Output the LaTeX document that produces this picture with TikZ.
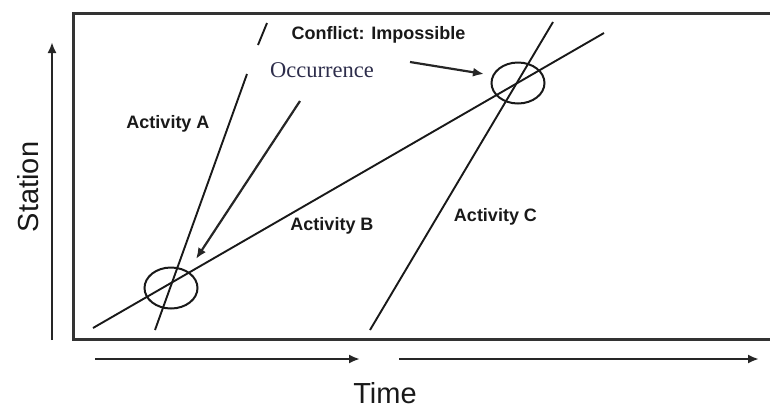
\documentclass[tikz,border=0pt]{standalone}
\usepackage{fontspec}
\setmainfont{Liberation Sans}
\newfontfamily\serifocc{Liberation Serif}
\usetikzlibrary{arrows.meta,shapes.geometric}
\definecolor{occcol}{RGB}{45,45,75}
\begin{document}
\begin{tikzpicture}[x=1pt,y=-1pt,
  frame/.style={draw=black!80,line width=3pt},
  actline/.style={draw=black!90,line width=1.9pt},
  arr/.style={draw=black!85,line width=2.2pt,-{Latex[length=11pt,width=9pt]}},
  ring/.style={ellipse,draw=black!90,line width=2pt,minimum width=53pt,minimum height=41pt,inner sep=0pt},
  lab/.style={font=\fontsize{18}{18}\selectfont\bfseries,inner sep=0pt,anchor=base,text=black!90},
  axlab/.style={font=\fontsize{29}{30}\selectfont,inner sep=0pt,anchor=base,text=black!90}]
\useasboundingbox (0,0) rectangle (770,410);
% frame (open on right)
\draw[frame] (770,13) -- (73,13) -- (73,339) -- (770,339);
% axes
\coordinate (sv0) at (52,340);
\coordinate (sv1) at (52,42);
\draw[arr] (sv0) -- (sv1);
\coordinate (t0) at (95,359);
\coordinate (t1) at (360,359);
\coordinate (t2) at (399,359);
\coordinate (t3) at (759,359);
\draw[arr] (t0) -- (t1);
\draw[arr] (t2) -- (t3);
\node[axlab,rotate=90] (station) at (38,187) {Station};
\node[axlab] (time) at (385,403) {Time};
% activity lines
\coordinate (a0) at (155,330);
\coordinate (a1) at (247,74);
\coordinate (a2) at (258,45);
\coordinate (a3) at (267,23);
\draw[actline] (a0) -- (a1);
\draw[actline] (a2) -- (a3);
\coordinate (b0) at (93,328);
\coordinate (b1) at (604,33);
\draw[actline] (b0) -- (b1);
\coordinate (c0) at (370,330);
\coordinate (c1) at (553,22);
\draw[actline] (c0) -- (c1);
% occurrence circles
\node[ring] (ring1) at (171,288) {};
\node[ring] (ring2) at (518,83) {};
% labels
\node[lab] (conflict) at (378.5,39) {Conflict: Impossible};
\node[inner sep=0pt,anchor=base,font=\serifocc\fontsize{22.5}{23}\selectfont,text=occcol] (occ) at (322,77) {Occurrence};
\node[lab] (actA) at (168,128) {Activity A};
\node[lab] (actB) at (332,230) {Activity B};
\node[lab] (actC) at (495.5,221) {Activity C};
% pointer arrows
\coordinate (p0) at (410,62);
\coordinate (p1) at (484,74);
\draw[arr] (p0) -- (p1);
\coordinate (q0) at (300,101);
\coordinate (q1) at (196,259);
\draw[arr] (q0) -- (q1);
\end{tikzpicture}
\end{document}
